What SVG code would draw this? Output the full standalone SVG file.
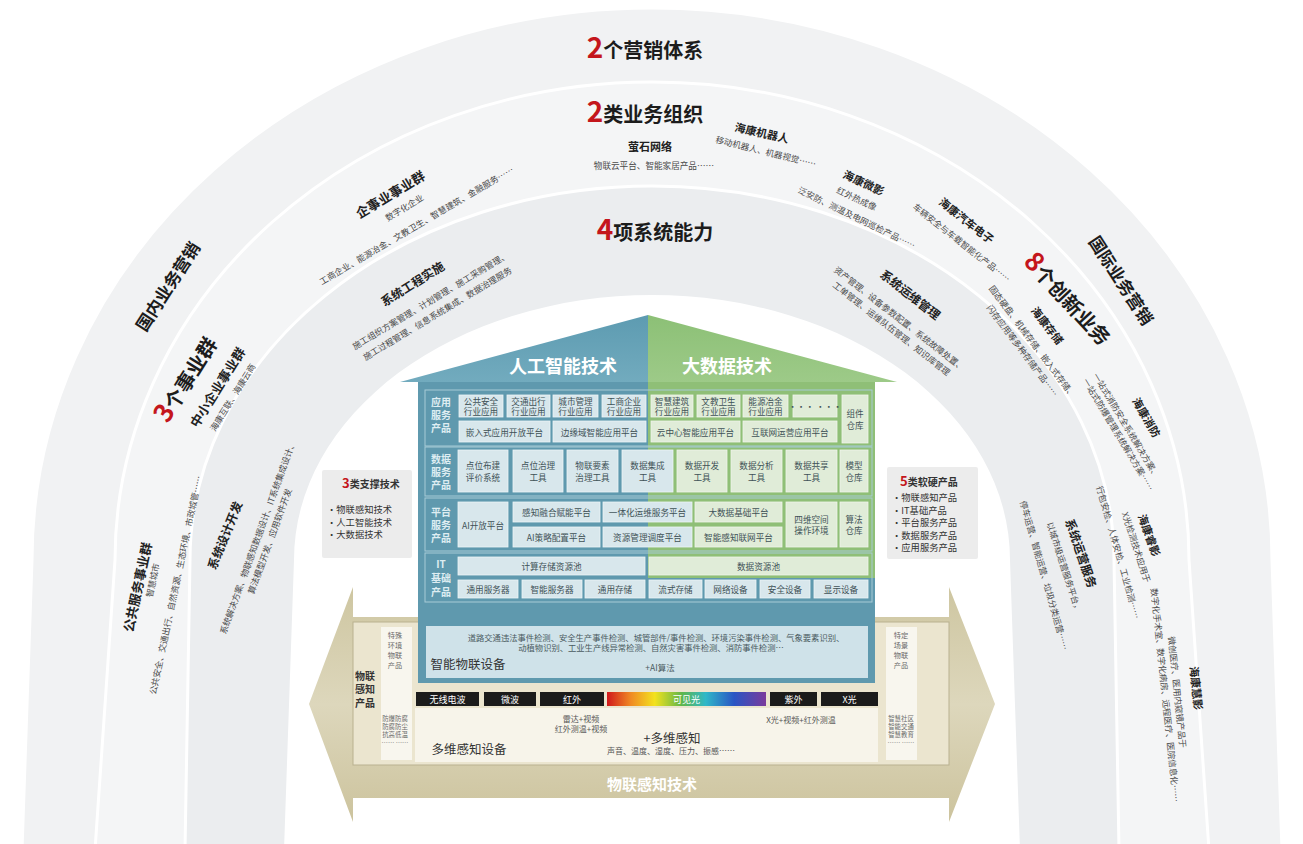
<svg xmlns="http://www.w3.org/2000/svg" width="1303" height="844" viewBox="0 0 1303 844">
<defs>
<style>
text{font-family:"Noto Sans CJK SC","Noto Sans",sans-serif}
.c{text-anchor:middle;dominant-baseline:central}
.m{text-anchor:middle}
.h{font-size:20px;font-weight:700;fill:#1c1c1c}
.red{fill:#c4161c}
.r1{font-size:17px;font-weight:700;fill:#1c1c1c}
.bg{font-size:13px;font-weight:700;fill:#222}
.bu{font-size:11px;font-weight:700;fill:#222}
.sc{font-size:12px;font-weight:700;fill:#222}
.ds{font-size:8.6px;fill:#4a4a4a}
.rl{font-size:10px;font-weight:700;fill:#deedf2}
.bt{font-size:8.6px;fill:#3f5257}
.bb{fill:#d8e7ec;stroke:#edf5f8;stroke-width:.8}
.bgr{fill:#e0ecd8;stroke:#f0f6ec;stroke-width:.8}
.rowf{fill:none;stroke:#a8cbd6;stroke-width:1}
.sp{font-size:9px;fill:#fff}
.pt{font-size:7.2px;fill:#6a6a6a}
.pt2{font-size:6.4px;fill:#6a6a6a}
.lt{font-size:8px;fill:#555}
.big{font-size:12.5px;fill:#333}
.sb{font-size:9.3px;fill:#333}
.sbt{font-size:10px;font-weight:700;fill:#333}
.ring{stroke:#fff;stroke-width:3}
</style>
<linearGradient id="rainbow" x1="0" x2="1" y1="0" y2="0">
<stop offset="0" stop-color="#d0181c"/>
<stop offset="0.15" stop-color="#f08a24"/>
<stop offset="0.3" stop-color="#f3e21e"/>
<stop offset="0.47" stop-color="#5fb64a"/>
<stop offset="0.62" stop-color="#2fb8c8"/>
<stop offset="0.8" stop-color="#2a55c4"/>
<stop offset="1" stop-color="#7a3a9c"/>
</linearGradient>
<linearGradient id="arr" x1="0" x2="0" y1="0" y2="1">
<stop offset="0" stop-color="#cec6a1"/>
<stop offset="0.5" stop-color="#ddd7bc"/>
<stop offset="1" stop-color="#ccc39d"/>
</linearGradient>
<linearGradient id="roofL" x1="0" x2="0" y1="0" y2="1">
<stop offset="0" stop-color="#5d9bb1"/>
<stop offset="1" stop-color="#72abbe"/>
</linearGradient>
<linearGradient id="roofR" x1="0" x2="0" y1="0" y2="1">
<stop offset="0" stop-color="#8cc076"/>
<stop offset="1" stop-color="#9dca88"/>
</linearGradient>
</defs>
<rect width="1303" height="844" fill="#fff"/>
<g id="rings">
<path class="ring" d="M22 850 L32 560 A620 552 0 0 1 1272 560 L1282 850 Z" fill="#f1f2f3"/>
<path class="ring" d="M95 850 L115 560 A537 478 0 0 1 1189 560 L1209 850 Z" fill="#f4f5f6"/>
<path class="ring" d="M185 850 L190 560 A462 374 0 0 1 1114 560 L1119 850 Z" fill="#ebedef"/>
<path d="M284 850 L294 560 A358 265 0 0 1 1010 560 L1020 850 Z" fill="#fff"/>
</g>
<g id="connectors"></g>
<g id="title-marketing"><text class="h m" x="645" y="58"><tspan class="red" font-size="28">2</tspan>个营销体系</text></g>
<g id="title-org"><text class="h m" x="645" y="122"><tspan class="red" font-size="28">2</tspan>类业务组织</text></g>
<g id="title-capability"><text class="h m" x="655" y="240"><tspan class="red" font-size="28">4</tspan>项系统能力</text></g>
<g id="domestic"><text class="r1 c" transform="translate(167 286) rotate(-57)">国内业务营销</text></g>
<g id="international"><text class="r1 c" transform="translate(1122 280) rotate(57)">国际业务营销</text></g>
<g id="bg3">
<text class="h m" font-size="18" transform="translate(187 380) rotate(-58)" y="7"><tspan class="red" font-size="26">3</tspan>个事业群</text>
</g>
<g id="smb">
<text class="bg c" transform="translate(217 387) rotate(-58)">中小企业事业群</text>
<text class="ds c" transform="translate(232 397) rotate(-58)">海康互联、海康云商</text>
</g>
<g id="enterprise">
<text class="bg c" transform="translate(390 194) rotate(-31)">企事业事业群</text>
<text class="ds c" transform="translate(404 207) rotate(-31)">数字化企业</text>
<text class="ds c" transform="translate(416 225) rotate(-30.5)">工商企业、能源冶金、文教卫生、智慧建筑、金融服务……</text>
</g>
<g id="public">
<text class="bg c" transform="translate(137 587) rotate(-78)">公共服务事业群</text>
<text class="ds c" transform="translate(152 580) rotate(-78)">智慧城市</text>
<text class="ds c" transform="translate(175 585) rotate(-78)">公共安全、交通出行、自然资源、生态环境、市政城管……</text>
</g>
<g id="ezviz">
<text class="bu c" x="650" y="146">萤石网络</text>
<text class="ds c" x="654" y="165">物联云平台、智能家居产品……</text>
</g>
<g id="robot">
<text class="bu c" transform="translate(762 132) rotate(13)">海康机器人</text>
<text class="ds c" transform="translate(766 151) rotate(14)">移动机器人、机器视觉……</text>
</g>
<g id="micro">
<text class="bu c" transform="translate(864 182) rotate(25)">海康微影</text>
<text class="ds c" transform="translate(857 198) rotate(25)">红外热成像</text>
<text class="ds c" transform="translate(857 217) rotate(26)">泛安防、测温及电网巡检产品……</text>
</g>
<g id="auto">
<text class="bu c" transform="translate(967 220) rotate(38)">海康汽车电子</text>
<text class="ds c" transform="translate(962 242) rotate(38)">车辆安全与车载智能化产品……</text>
</g>
<g id="innov8">
<text class="h m" font-size="18" transform="translate(1067 300) rotate(47)" y="7"><tspan class="red" font-size="26">8</tspan>个创新业务</text>
</g>
<g id="storage">
<text class="bu c" transform="translate(1048 325) rotate(52)">海康存储</text>
<text class="ds c" transform="translate(1033 341) rotate(53)">固态硬盘、机械存储、嵌入式存储、</text>
<text class="ds c" transform="translate(1023 350) rotate(53)">闪存应用等多种存储产品……</text>
</g>
<g id="fire">
<text class="bu c" transform="translate(1147 417) rotate(60)">海康消防</text>
<text class="ds c" transform="translate(1127 425) rotate(59)">一站式消防安全系统解决方案、</text>
<text class="ds c" transform="translate(1119 434) rotate(59)">一站式防爆管理系统解决方案……</text>
</g>
<g id="ruiying">
<text class="bu c" transform="translate(1150 535) rotate(70)">海康睿影</text>
<text class="ds c" transform="translate(1137 547) rotate(72)">X光检测技术应用于</text>
<text class="ds c" transform="translate(1119 552) rotate(74)">行包安检、人体安检、工业检测……</text>
</g>
<g id="huiying">
<text class="bu c" transform="translate(1197 688) rotate(84)">海康慧影</text>
<text class="ds c" transform="translate(1178 692) rotate(84)">微创医疗、医用内窥镜产品于</text>
<text class="ds c" transform="translate(1166 695) rotate(84)">数字化手术室、数字化病房、远程医疗、医院信息化……</text>
</g>
<g id="sys-impl">
<text class="sc c" transform="translate(412 283) rotate(-32)">系统工程实施</text>
<text class="ds c" transform="translate(430 300) rotate(-31)">施工组织方案管理、计划管理、施工采购管理、</text>
<text class="ds c" transform="translate(437 313) rotate(-31)">施工过程管理、信息系统集成、数据治理服务</text>
</g>
<g id="sys-design">
<text class="sc c" transform="translate(224 535) rotate(-68)">系统设计开发</text>
<text class="ds c" transform="translate(257 537) rotate(-70)">系统解决方案、物联感知数据设计、IT系统集成设计、</text>
<text class="ds c" transform="translate(269 541) rotate(-70)">算法模型开发、应用软件开发</text>
</g>
<g id="sys-om">
<text class="sc c" transform="translate(911 294) rotate(38)">系统运维管理</text>
<text class="ds c" transform="translate(900 318) rotate(38)">资产管理、设备参数配置、系统故障处置、</text>
<text class="ds c" transform="translate(892 328) rotate(38)">工单管理、运维队伍管理、知识库管理</text>
</g>
<g id="sys-ops">
<text class="sc c" transform="translate(1082 553) rotate(71)">系统运营服务</text>
<text class="ds c" transform="translate(1065 567) rotate(72)">以城市级运营服务平台，</text>
<text class="ds c" transform="translate(1045 575) rotate(74)">停车运营、智能运营、垃圾分类运营……</text>
</g>
<g id="iot-arrow">
<polygon points="309,704 353,587 353,617 949,617 949,587 995,704 949,822 949,798 353,798 353,822" fill="url(#arr)"/>
<rect x="353" y="622" width="596" height="143" fill="#ebe5cf" stroke="#b9b190" stroke-width="1"/>
<rect x="381" y="627" width="31" height="133" fill="#f8f6ee"/>
<rect x="886" y="627" width="31" height="133" fill="#f8f6ee"/>
<rect x="415" y="708" width="463" height="54" fill="#f7f4ea"/>
<text class="sbt c" x="365" y="675">物联</text>
<text class="sbt c" x="365" y="688">感知</text>
<text class="sbt c" x="365" y="702">产品</text>
<text class="pt c" x="395" y="635">特殊</text>
<text class="pt c" x="395" y="645">环境</text>
<text class="pt c" x="395" y="655">物联</text>
<text class="pt c" x="395" y="665">产品</text>
<text class="pt2 c" x="395" y="718">防爆防腐</text>
<text class="pt2 c" x="395" y="726">防腐防尘</text>
<text class="pt2 c" x="395" y="734">抗高低温</text>
<text class="pt2 c" x="395" y="742">…… ……</text>
<text class="pt c" x="901" y="635">特定</text>
<text class="pt c" x="901" y="645">场景</text>
<text class="pt c" x="901" y="655">物联</text>
<text class="pt c" x="901" y="665">产品</text>
<text class="pt2 c" x="901" y="718">智慧社区</text>
<text class="pt2 c" x="901" y="726">智能交通</text>
<text class="pt2 c" x="901" y="734">智慧教育</text>
<text class="pt2 c" x="901" y="742">…… ……</text>
<rect x="416" y="692" width="63" height="14" fill="#1b1b1b"/>
<rect x="484" y="692" width="52" height="14" fill="#1b1b1b"/>
<rect x="540" y="692" width="64" height="14" fill="#1b1b1b"/>
<rect x="607" y="692" width="159" height="14" fill="url(#rainbow)"/>
<rect x="770" y="692" width="47" height="14" fill="#1b1b1b"/>
<rect x="821" y="692" width="57" height="14" fill="#1b1b1b"/>
<text class="sp c" x="447.5" y="699">无线电波</text>
<text class="sp c" x="510" y="699">微波</text>
<text class="sp c" x="572" y="699">红外</text>
<text class="sp c" x="686.5" y="699" fill="#e6f2dc">可见光</text>
<text class="sp c" x="793.5" y="699">紫外</text>
<text class="sp c" x="849.5" y="699">X光</text>
<text class="lt c" x="581" y="718">雷达+视频</text>
<text class="lt c" x="581" y="728">红外测温+视频</text>
<text class="lt c" x="801" y="719">X光+视频+红外测温</text>
<text class="big c" x="672" y="737">+多维感知</text>
<text class="lt c" x="671" y="750">声音、温度、湿度、压力、振感……</text>
<text class="big c" x="469" y="748">多维感知设备</text>
<text class="c" x="652" y="783" font-size="15" font-weight="700" fill="#fff">物联感知技术</text>
</g>
<g id="house">
<polygon points="400,382 648,315 648,382" fill="url(#roofL)"/>
<polygon points="648,315 897,382 648,382" fill="url(#roofR)"/>
<text class="c" x="563" y="365" font-size="18" font-weight="700" fill="#fff">人工智能技术</text>
<text class="c" x="727" y="365" font-size="18" font-weight="700" fill="#fff">大数据技术</text>
<rect x="418" y="382" width="457" height="301" fill="#5f99ae"/>
<rect x="648" y="382" width="227" height="196" fill="#8fbf77"/>
<rect class="rowf" x="425" y="390" width="447" height="56"/>
<rect class="rowf" x="425" y="447" width="447" height="49"/>
<rect class="rowf" x="425" y="498" width="447" height="53"/>
<rect class="rowf" x="425" y="553" width="447" height="49"/>
<text class="rl c" x="441" y="401">应用</text>
<text class="rl c" x="441" y="414">服务</text>
<text class="rl c" x="441" y="427">产品</text>
<text class="rl c" x="441" y="458">数据</text>
<text class="rl c" x="441" y="471">服务</text>
<text class="rl c" x="441" y="484">产品</text>
<text class="rl c" x="441" y="511">平台</text>
<text class="rl c" x="441" y="524">服务</text>
<text class="rl c" x="441" y="537">产品</text>
<text class="rl c" x="441" y="563">IT</text>
<text class="rl c" x="441" y="577">基础</text>
<text class="rl c" x="441" y="591">产品</text>
<rect class="bb" x="459" y="395" width="44" height="22"/>
<rect class="bb" x="507" y="395" width="43" height="22"/>
<rect class="bb" x="553" y="395" width="45" height="22"/>
<rect class="bb" x="602" y="395" width="44" height="22"/>
<rect class="bgr" x="651" y="395" width="42" height="22"/>
<rect class="bgr" x="697" y="395" width="43" height="22"/>
<rect class="bgr" x="743" y="395" width="45" height="22"/>
<rect class="bgr" x="793" y="395" width="44" height="22"/>
<rect class="bgr" x="842" y="395" width="26" height="48"/>
<rect class="bb" x="459" y="421" width="91" height="21"/>
<rect class="bb" x="553" y="421" width="93" height="21"/>
<rect class="bgr" x="651" y="421" width="89" height="21"/>
<rect class="bgr" x="743" y="421" width="94" height="21"/>
<text class="bt c" x="481" y="401">公共安全</text><text class="bt c" x="481" y="411">行业应用</text>
<text class="bt c" x="528.5" y="401">交通出行</text><text class="bt c" x="528.5" y="411">行业应用</text>
<text class="bt c" x="575.5" y="401">城市管理</text><text class="bt c" x="575.5" y="411">行业应用</text>
<text class="bt c" x="624" y="401">工商企业</text><text class="bt c" x="624" y="411">行业应用</text>
<text class="bt c" x="672" y="401">智慧建筑</text><text class="bt c" x="672" y="411">行业应用</text>
<text class="bt c" x="718.5" y="401">文教卫生</text><text class="bt c" x="718.5" y="411">行业应用</text>
<text class="bt c" x="765.5" y="401">能源冶金</text><text class="bt c" x="765.5" y="411">行业应用</text>
<text class="bt c" x="815" y="406" fill="#8a9a9e">··· ···</text>
<text class="bt c" x="855" y="413">组件</text><text class="bt c" x="855" y="425">仓库</text>
<text class="bt c" x="504.5" y="431.5">嵌入式应用开放平台</text>
<text class="bt c" x="599.5" y="431.5">边缘域智能应用平台</text>
<text class="bt c" x="695.5" y="431.5">云中心智能应用平台</text>
<text class="bt c" x="790" y="431.5">互联网运营应用平台</text>
<rect class="bb" x="458" y="450" width="50" height="42"/>
<rect class="bb" x="513" y="450" width="50" height="42"/>
<rect class="bb" x="567" y="450" width="51" height="42"/>
<rect class="bb" x="622" y="450" width="51" height="42"/>
<rect class="bgr" x="677" y="450" width="50" height="42"/>
<rect class="bgr" x="731" y="450" width="51" height="42"/>
<rect class="bgr" x="786" y="450" width="51" height="42"/>
<rect class="bgr" x="840" y="450" width="28" height="42"/>
<text class="bt c" x="483" y="465">点位布建</text><text class="bt c" x="483" y="477">评价系统</text>
<text class="bt c" x="538" y="465">点位治理</text><text class="bt c" x="538" y="477">工具</text>
<text class="bt c" x="592.5" y="465">物联要素</text><text class="bt c" x="592.5" y="477">治理工具</text>
<text class="bt c" x="647.5" y="465">数据集成</text><text class="bt c" x="647.5" y="477">工具</text>
<text class="bt c" x="702" y="465">数据开发</text><text class="bt c" x="702" y="477">工具</text>
<text class="bt c" x="756.5" y="465">数据分析</text><text class="bt c" x="756.5" y="477">工具</text>
<text class="bt c" x="811.5" y="465">数据共享</text><text class="bt c" x="811.5" y="477">工具</text>
<text class="bt c" x="854" y="465">模型</text><text class="bt c" x="854" y="477">仓库</text>
<rect class="bb" x="458" y="502" width="50" height="45"/>
<rect class="bb" x="513" y="502" width="87" height="20"/>
<rect class="bb" x="603" y="502" width="89" height="20"/>
<rect class="bgr" x="695" y="502" width="87" height="20"/>
<rect class="bb" x="513" y="527" width="87" height="20"/>
<rect class="bb" x="603" y="527" width="89" height="20"/>
<rect class="bgr" x="695" y="527" width="87" height="20"/>
<rect class="bgr" x="786" y="502" width="51" height="45"/>
<rect class="bgr" x="840" y="502" width="28" height="45"/>
<text class="bt c" x="483" y="524.5">AI开放平台</text>
<text class="bt c" x="556.5" y="512">感知融合赋能平台</text>
<text class="bt c" x="647.5" y="512">一体化运维服务平台</text>
<text class="bt c" x="738.5" y="512">大数据基础平台</text>
<text class="bt c" x="556.5" y="537">AI策略配置平台</text>
<text class="bt c" x="647.5" y="537">资源管理调度平台</text>
<text class="bt c" x="738.5" y="537">智能感知联网平台</text>
<text class="bt c" x="811.5" y="519">四维空间</text><text class="bt c" x="811.5" y="530">操作环境</text>
<text class="bt c" x="854" y="519">算法</text><text class="bt c" x="854" y="530">仓库</text>
<rect class="bb" x="458" y="557" width="187" height="18"/>
<rect class="bgr" x="649" y="557" width="219" height="18"/>
<text class="bt c" x="551.5" y="566">计算存储资源池</text>
<text class="bt c" x="758.5" y="566">数据资源池</text>
<rect class="bb" x="458" y="580" width="60" height="18"/>
<rect class="bb" x="522" y="580" width="60" height="18"/>
<rect class="bb" x="585" y="580" width="60" height="18"/>
<rect class="bb" x="649" y="580" width="53" height="18"/>
<rect class="bb" x="705" y="580" width="51" height="18"/>
<rect class="bb" x="760" y="580" width="50" height="18"/>
<rect class="bb" x="814" y="580" width="54" height="18"/>
<text class="bt c" x="488" y="589">通用服务器</text>
<text class="bt c" x="552" y="589">智能服务器</text>
<text class="bt c" x="615" y="589">通用存储</text>
<text class="bt c" x="675.5" y="589">流式存储</text>
<text class="bt c" x="730.5" y="589">网络设备</text>
<text class="bt c" x="785" y="589">安全设备</text>
<text class="bt c" x="841" y="589">显示设备</text>
<rect x="426" y="626" width="442" height="52" fill="#cfe2e9"/>
<text class="c" x="656" y="637" font-size="8.3" fill="#4a5a60">道路交通违法事件检测、安全生产事件检测、城管部件/事件检测、环境污染事件检测、气象要素识别、</text>
<text class="c" x="651" y="647" font-size="8.3" fill="#4a5a60">动植物识别、工业生产线异常检测、自然灾害事件检测、消防事件检测…</text>
<text class="big c" x="468" y="663">智能物联设备</text>
<text class="c" x="660" y="667" font-size="8.5" fill="#4a5a60">+AI算法</text>
</g>
<g id="support-tech">
<rect x="322" y="470" width="90" height="88" rx="2" fill="#ececec"/>
<text class="sbt" x="342" y="488"><tspan class="red" font-size="13">3</tspan>类支撑技术</text>
<text class="sb" x="327" y="513">·物联感知技术</text>
<text class="sb" x="327" y="525.5">·人工智能技术</text>
<text class="sb" x="327" y="538">·大数据技术</text>
</g>
<g id="products">
<rect x="887" y="467" width="91" height="92" rx="2" fill="#ececec"/>
<text class="sbt" x="900" y="486"><tspan class="red" font-size="13">5</tspan>类软硬产品</text>
<text class="sb" x="892" y="501">·物联感知产品</text>
<text class="sb" x="892" y="513.5">·IT基础产品</text>
<text class="sb" x="892" y="526">·平台服务产品</text>
<text class="sb" x="892" y="538.5">·数据服务产品</text>
<text class="sb" x="892" y="551">·应用服务产品</text>
</g>
</svg>
